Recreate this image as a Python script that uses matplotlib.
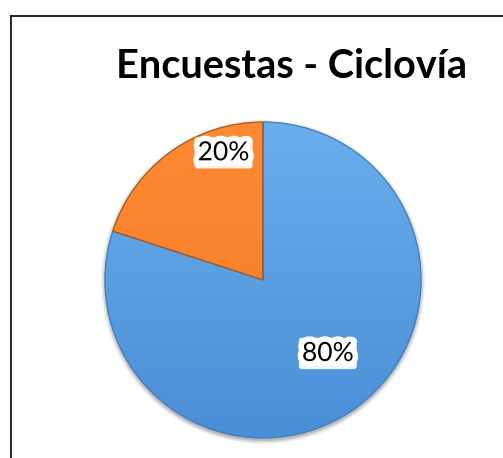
import numpy as np
import matplotlib
matplotlib.use('Agg')
import matplotlib.pyplot as plt
import matplotlib.patheffects as pe
from matplotlib.colors import LinearSegmentedColormap
from matplotlib.lines import Line2D

# data
categories = ["Sí", "No"]
values = [80, 20]
labels = ["80%", "20%"]
colors = ["#5A9FE4", "#FA822A"]
top_colors = ["#6AAEEC", "#FF8A33"]
bottom_colors = ["#4A8FD6", "#F07A22"]
edge_colors = ["#3E7DBD", "#A9571A"]
title = "Encuestas - Ciclovía"

W, H = 503, 458
fig = plt.figure(figsize=(W / 100, H / 100), dpi=100)

# pie centre (263, 280) px from top-left, radius 158 px
cx, cy, r = 263, 280, 158
ax = fig.add_axes([(cx - r) / W, (H - cy - r) / H, 2 * r / W, 2 * r / H])

# soft shadow
for k, a in [(1.025, 0.12), (1.015, 0.2), (1.006, 0.3)]:
    ax.pie([1], radius=k, colors=["#7a7a7a"], center=(0.0, -0.012),
           wedgeprops=dict(linewidth=0, alpha=a))
wedges, _ = ax.pie(values, colors=colors, startangle=90, counterclock=False,
                   wedgeprops=dict(linewidth=0))

# vertical gradient fill clipped to each wedge
grad = np.linspace(1, 0, 256).reshape(-1, 1)
for w, c0, c1, ec in zip(wedges, top_colors, bottom_colors, edge_colors):
    cmap = LinearSegmentedColormap.from_list("g", [c1, c0])
    im = ax.imshow(grad, cmap=cmap, extent=[-1, 1, -1, 1], aspect='auto',
                   zorder=w.get_zorder() + 0.1, origin='upper')
    im.set_clip_path(w)
    w.set_facecolor('none')
    w.set_edgecolor(ec)
    w.set_linewidth(0.9)
    w.set_zorder(w.get_zorder() + 0.2)

ax.set_xlim(-1, 1)
ax.set_ylim(-1, 1)
ax.set_aspect('equal')
ax.axis('off')

# label positions in data units
label_pos = [(0.41, -0.465), (-0.25, 0.805)]
for txt, (x, y) in zip(labels, label_pos):
    ax.text(x, y, txt, ha='center', va='center', fontsize=19, family='Lato',
            color='black', zorder=10,
            bbox=dict(boxstyle='round,pad=0.12', facecolor='white',
                      edgecolor='none', alpha=0.9),
            path_effects=[pe.withStroke(linewidth=8, foreground='white')])

fig.text(292 / W, 1 - 66 / H, title, ha='center', va='center',
         fontsize=28.5, fontweight='bold', family='Lato')

# frame (left and top sides visible, others cut off)
fig.add_artist(Line2D([11 / W, 11 / W], [0, 1 - 16 / H], color='black', lw=1.2))
fig.add_artist(Line2D([11 / W, 1], [1 - 16 / H, 1 - 16 / H], color='black', lw=1.2))

fig.savefig("out.png", dpi=100)
